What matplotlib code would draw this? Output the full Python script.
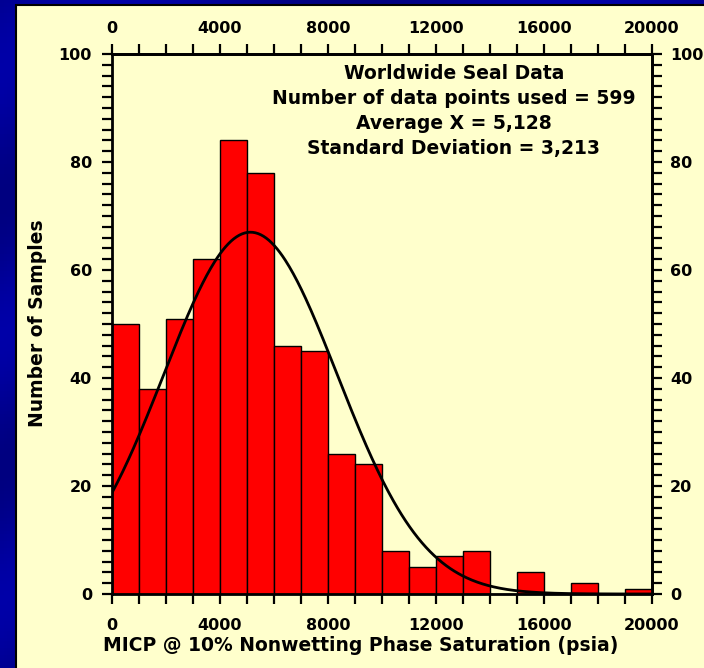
import numpy as np
import matplotlib
matplotlib.use("Agg")
import matplotlib.pyplot as plt
from matplotlib.patches import Rectangle

# histogram counts, bins of 1000 psia from 0 to 20000
bin_left = [0, 1000, 2000, 3000, 4000, 5000, 6000, 7000, 8000, 9000,
            10000, 11000, 12000, 13000, 14000, 15000, 16000, 17000, 18000, 19000]
counts = [50, 38, 51, 62, 84, 78, 46, 45, 26, 24,
          8, 5, 7, 8, 0, 4, 0, 2, 0, 1]
bin_width = 1000

# fitted normal curve
mean_x = 5128
std_x = 3213
curve_peak = 67
n_points = 599

info_lines = ["Worldwide Seal Data",
              f"Number of data points used = {n_points}",
              f"Average X = {mean_x:,}",
              f"Standard Deviation = {std_x:,}"]

plt.rcParams['font.family'] = ['DejaVu Sans']
plt.rcParams['font.weight'] = 'bold'

fig = plt.figure(figsize=(7.04, 6.68), dpi=100)

# blue slide background
bg = fig.add_axes([0, 0, 1, 1], zorder=-10)
yy, xx = np.mgrid[0:1:200j, 0:1:200j]
shade = 0.5 + 0.5 * np.sin((xx * 3 + yy * 5) * np.pi)
bg.imshow(shade, cmap=matplotlib.colors.LinearSegmentedColormap.from_list(
    "slide", ["#000080", "#0000a8"]), extent=[0, 1, 0, 1], aspect='auto')
bg.axis('off')

# cream panel
fig.patches.append(Rectangle((16 / 704, -0.01), 1.0, (668 - 5) / 668 + 0.01,
                             transform=fig.transFigure, facecolor='#ffffcc',
                             edgecolor='black', linewidth=1.5, zorder=-5))

ax = fig.add_axes([112 / 704, 1 - 594 / 668, 540 / 704, 540 / 668])
ax.set_facecolor('none')

ax.bar(bin_left, counts, width=bin_width, align='edge', color='#ff0000',
       edgecolor='black', linewidth=1.0, zorder=2)

xs = np.linspace(0, 20000, 400)
ax.plot(xs, curve_peak * np.exp(-0.5 * ((xs - mean_x) / std_x) ** 2),
        color='black', linewidth=2, zorder=3)

ax.set_xlim(0, 20000)
ax.set_ylim(0, 100)

top = ax.secondary_xaxis('top')
right = ax.secondary_yaxis('right')
for a in (ax, top):
    a.set_xticks(np.arange(0, 20001, 4000))
    a.set_xticks(np.arange(0, 20001, 1000), minor=True)
for a in (ax, right):
    a.set_yticks(np.arange(0, 101, 20))
    a.set_yticks(np.arange(0, 101, 2), minor=True)

for axis_obj in (ax, top, right):
    for s in axis_obj.spines.values():
        s.set_linewidth(2)
    axis_obj.tick_params(which='both', direction='out', length=7.5, width=1.6,
                         labelsize=11.5)
ax.tick_params(top=False, right=False)
ax.tick_params(axis='x', which='major', pad=9.5)
ax.tick_params(axis='y', which='major', pad=6.9)
top.tick_params(axis='x', which='major', pad=5.8)
right.tick_params(axis='y', which='major', pad=5.5)

ax.set_xlabel("MICP @ 10% Nonwetting Phase Saturation (psia)",
              fontsize=13.5, fontweight='bold')
ax.xaxis.set_label_coords(0.461, -0.078)
ax.set_ylabel("Number of Samples", fontsize=13.5, fontweight='bold')
ax.yaxis.set_label_coords(-0.120, 0.502)

for i, line in enumerate(info_lines):
    ax.text(0.633, 0.9528 - i * 0.0459, line, transform=ax.transAxes,
            ha='center', va='baseline', fontsize=13.5, fontweight='bold')

fig.savefig("out.png", dpi=100)
